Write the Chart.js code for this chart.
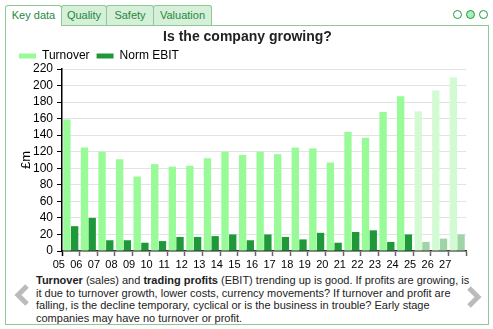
<!DOCTYPE html>
<html>
<head>
<meta charset="utf-8">
<script src="https://cdn.jsdelivr.net/npm/chart.js@4/dist/chart.umd.min.js"></script>
<style>
  body {
    margin: 0;
    width: 493px;
    height: 329px;
    position: relative;
    overflow: hidden;
    background: #fff;
    font-family: "Liberation Sans", Arial, sans-serif;
  }
  .panel {
    position: absolute;
    left: 5px;
    top: 25px;
    width: 484px;
    height: 300px;
    box-sizing: border-box;
    border: 1px solid #8fc996;
  }
  .tab {
    position: absolute;
    top: 5px;
    height: 20px;
    box-sizing: border-box;
    border: 1px solid #8fc996;
    border-bottom: none;
    border-radius: 3px 3px 0 0;
    background: #d5efd8;
    color: #1d8a3e;
    font-size: 11px;
    line-height: 19px;
    text-align: center;
    z-index: 2;
  }
  .tab.active {
    background: #fff;
    height: 21px;
  }
  .dots {
    position: absolute;
    left: 453px;
    top: 10px;
    display: flex;
    gap: 4px;
  }
  .dot {
    width: 7px;
    height: 7px;
    border: 1px solid #1d9a3c;
    border-radius: 50%;
  }
  .dot.on {
    background: #a6efbb;
  }
  #chart {
    position: absolute;
    left: 6px;
    top: 26px;
  }
  .note {
    position: absolute;
    left: 36px;
    top: 274px;
    width: 438px;
    font-size: 11px;
    line-height: 12.6px;
    color: #222;
  }
  .arrow {
    position: absolute;
  }
</style>
</head>
<body>
<div class="panel"></div>
<div class="tab active" style="left:5px;width:57px;">Key data</div>
<div class="tab" style="left:61px;width:46px;">Quality</div>
<div class="tab" style="left:106px;width:48px;">Safety</div>
<div class="tab" style="left:153px;width:59px;">Valuation</div>
<div class="dots"><div class="dot"></div><div class="dot on"></div><div class="dot"></div></div>

<canvas id="chart" width="482" height="248"></canvas>

<svg class="arrow" style="left:12px;top:283px" width="20" height="24">
  <polyline points="15,3 6,12 15,21" fill="none" stroke="#bbb" stroke-width="5" />
</svg>
<svg class="arrow" style="left:464px;top:285px" width="20" height="24">
  <polyline points="5,3 14,12 5,21" fill="none" stroke="#bbb" stroke-width="5" />
</svg>

<div class="note"><b>Turnover</b> (sales) and <b>trading profits</b> (EBIT) trending up is good. If profits are growing, is it due to turnover growth, lower costs, currency movements? If turnover and profit are falling, is the decline temporary, cyclical or is the business in trouble? Early stage companies may have no turnover or profit.</div>

<script>
  // years (last three are forecasts)
  const years = ["05", "06", "07", "08", "09", "10", "11", "12", "13", "14", "15", "16",
    "17", "18", "19", "20", "21", "22", "23", "24", "25", "26", "27"];
  const turnover = [159, 125, 120, 111, 90, 105, 102, 103, 112, 120, 116, 120,
    117, 125, 124, 107, 144, 137, 168, 187, 169, 194, 210];
  const normEbit = [30, 40, 13, 13, 10, 12, 17, 17, 18, 20, 13, 20,
    17, 14, 22, 10, 23, 25, 11, 20, 11, 15, 20];
  const forecastYears = ["25", "26", "27"];
  const yTicks = [0, 20, 40, 60, 80, 100, 120, 140, 160, 180, 200, 220];

  const isForecast = (i) => forecastYears.includes(years[i]);
  const turnoverColors = years.map((y, i) => (isForecast(i) ? "#d3fbd3" : "#98fb98"));
  const ebitColors = years.map((y, i) => (isForecast(i) ? "#9fd4a6" : "#1f983a"));

  // legend is a bit taller than the original, trim it
  const legendTrim = {
    id: "legendTrim",
    afterInit(chart) {
      const lg = chart.legend;
      const fit = lg.fit;
      lg.fit = function () {
        fit.call(this);
        this.height -= 3;
      };
    },
  };

  const ctx = document.getElementById("chart").getContext("2d");
  new Chart(ctx, {
    type: "bar",
    data: {
      labels: years,
      datasets: [
        {
          label: "Turnover",
          data: turnover,
          backgroundColor: turnoverColors,
          borderWidth: 0,
        },
        {
          label: "Norm EBIT",
          data: normEbit,
          backgroundColor: ebitColors,
          borderWidth: 0,
        },
      ],
    },
    options: {
      responsive: false,
      animation: false,
      devicePixelRatio: 1,
      categoryPercentage: 0.88,
      barPercentage: 0.95,
      layout: { padding: { left: 6, right: 5, top: 0, bottom: 0 } },
      plugins: {
        tooltip: { enabled: false },
        title: {
          display: true,
          text: "Is the company growing?",
          color: "#222",
          font: { family: "Liberation Sans", size: 14, weight: "bold", lineHeight: 1 },
          padding: { top: 4, bottom: -1 },
        },
        legend: {
          align: "start",
          labels: {
            boxWidth: 17,
            boxHeight: 5,
            padding: 7,
            color: "#000",
            font: { family: "Liberation Sans", size: 12 },
            generateLabels: (chart) =>
              chart.data.datasets.map((ds, i) => ({
                text: ds.label,
                fillStyle: i === 0 ? "#98fb98" : "#1f983a",
                strokeStyle: "transparent",
                lineWidth: 0,
                datasetIndex: i,
              })),
          },
        },
      },
      scales: {
        x: {
          afterFit: (s) => {
            s.height = 23;
          },
          grid: {
            display: true,
            offset: true,
            drawOnChartArea: false,
            drawTicks: true,
            tickLength: 5,
            tickColor: (c) => (c.index === 0 || c.index === years.length ? "#000" : "#666"),
            tickWidth: 1.5,
          },
          border: { color: "#333", width: 1.5 },
          ticks: {
            color: "#000",
            padding: 2,
            labelOffset: -12,
            maxRotation: 0,
            autoSkip: false,
            font: { family: "Liberation Sans", size: 11 },
          },
        },
        y: {
          min: 0,
          max: 220,
          afterFit: (s) => {
            s.width = 50;
          },
          afterBuildTicks: (s) => {
            s.ticks = yTicks.map((v) => ({ value: v }));
          },
          grid: {
            color: "#e3e3e3",
            lineWidth: 1,
            tickColor: "#000",
            tickLength: 5,
          },
          border: { color: "#000", width: 1.5 },
          ticks: {
            color: "#000",
            padding: 4,
            autoSkip: false,
            font: { family: "Liberation Sans", size: 12 },
          },
          title: {
            display: true,
            text: "£m",
            color: "#000",
            font: { family: "Liberation Sans", size: 13 },
            padding: { top: 7, bottom: 0 },
          },
        },
        // empty strip on the right so the title centres like the original
        yRight: {
          position: "right",
          display: true,
          afterFit: (s) => {
            s.width = 17;
          },
          grid: { display: false },
          border: { display: false },
          ticks: { display: false },
        },
      },
    },
    plugins: [legendTrim],
  });
</script>
</body>
</html>
